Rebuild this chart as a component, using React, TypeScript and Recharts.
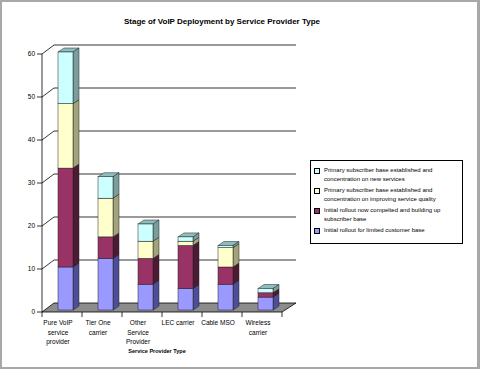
import React from 'react';
import { BarChart, Bar, XAxis, YAxis, CartesianGrid, Legend } from 'recharts';

const CATEGORIES = ['Pure VoIP service provider', 'Tier One carrier', 'Other Service Provider', 'LEC carrier', 'Cable MSO', 'Wireless carrier'];
const CATEGORY_LINES = [['Pure VoIP', 'service', 'provider'], ['Tier One', 'carrier'], ['Other', 'Service', 'Provider'], ['LEC carrier'], ['Cable MSO'], ['Wireless', 'carrier']];

const INITIAL_LIMITED = [10, 12, 6, 5, 6, 3];
const INITIAL_COMPLETED = [23, 5, 6, 10, 4, 1];
const PRIMARY_QUALITY = [15, 9, 4, 1, 4.5, 0];
const PRIMARY_NEW = [12, 5, 4, 1, 0.5, 1];

const Y_TICKS = [0, 10, 20, 30, 40, 50, 60];

const SERIES = [
  { key: 'limited', name: 'Initial rollout for limited customer base', fill: '#9999ff', side: '#4d4d99', cap: '#7a7acc' },
  { key: 'completed', name: 'Initial rollout now compelted and building up subscriber base', fill: '#993366', side: '#4d1a33', cap: '#7a2952' },
  { key: 'quality', name: 'Primary subscriber base established and concentration on improving service quality', fill: '#ffffcc', side: '#a3a37a', cap: '#cccca3' },
  { key: 'newsvc', name: 'Primary subscriber base established and concentration on new services', fill: '#ccffff', side: '#7a9e9e', cap: '#8fbdbd' },
];

const data = CATEGORIES.map((name, i) => ({
  name,
  limited: INITIAL_LIMITED[i],
  completed: INITIAL_COMPLETED[i],
  quality: PRIMARY_QUALITY[i],
  newsvc: PRIMARY_NEW[i],
}));

// layout
const PLOT_BOTTOM = 312;
const WALL_DX = 12;
const WALL_DY = 9;
const BAR_DX = 6;
const BAR_DY = 4;

const Bar3D = (props: any) => {
  const { x, y, width, height, fill, side, cap } = props;
  if (!height || height <= 0.1) return null;
  const fx = x + 3;
  const fy = y - 2;
  const w = width;
  const h = height;
  return (
    <g stroke="#222" strokeWidth={0.5}>
      <polygon points={`${fx},${fy} ${fx + w},${fy} ${fx + w + BAR_DX},${fy - BAR_DY} ${fx + BAR_DX},${fy - BAR_DY}`} fill={cap} />
      <polygon points={`${fx + w},${fy} ${fx + w + BAR_DX},${fy - BAR_DY} ${fx + w + BAR_DX},${fy + h - BAR_DY} ${fx + w},${fy + h}`} fill={side} />
      <rect x={fx} y={fy} width={w} height={h} fill={fill} />
    </g>
  );
};

const GridLine = (props: any) => {
  const { x1, x2, y1 } = props;
  if (Math.abs(y1 - PLOT_BOTTOM) < 1) {
    return (
      <g>
        <polygon
          points={`${x1},${y1} ${x2},${y1} ${x2 + 14},${y1 - WALL_DY} ${x1 + WALL_DX},${y1 - WALL_DY}`}
          fill="#8c8c8c"
          stroke="#000"
          strokeWidth={0.8}
        />
      </g>
    );
  }
  return (
    <g stroke="#000" strokeWidth={0.8}>
      <line x1={x1} y1={y1} x2={x1 + WALL_DX} y2={y1 - WALL_DY} />
      <line x1={x1 + WALL_DX} y1={y1 - WALL_DY} x2={x2 + 14} y2={y1 - WALL_DY} />
    </g>
  );
};

const CategoryTick = (props: any) => {
  const { x, index } = props;
  const lines = CATEGORY_LINES[index] || [];
  return (
    <g>
      <line x1={x - 20} y1={PLOT_BOTTOM} x2={x - 20} y2={PLOT_BOTTOM + 5} stroke="#000" strokeWidth={0.8} />
      {index === CATEGORIES.length - 1 && (
        <line x1={x + 20} y1={PLOT_BOTTOM} x2={x + 20} y2={PLOT_BOTTOM + 5} stroke="#000" strokeWidth={0.8} />
      )}
      <text x={x - 4} y={PLOT_BOTTOM + 13} textAnchor="middle" fontSize={6.5} fill="#000" fontFamily="Liberation Sans, Arial, sans-serif">
        {lines.map((l: string, i: number) => (
          <tspan key={i} x={x - 4} dy={i === 0 ? 0 : 9.5}>{l}</tspan>
        ))}
      </text>
    </g>
  );
};

const renderLegend = (props: any) => {
  const items = [...(props.payload || [])].reverse();
  return (
    <div style={{ border: '1px solid #000', boxSizing: 'border-box', width: 153, height: 84, padding: '5px 3px', background: '#fff', fontFamily: 'Liberation Sans, Arial, sans-serif' }}>
      {items.map((item: any, i: number) => (
        <div key={i} style={{ display: 'flex', alignItems: 'flex-start', marginBottom: 3 }}>
          <span style={{ width: 4, height: 4, border: '1px solid #000', background: item.color, marginTop: 2, marginRight: 4, flexShrink: 0 }} />
          <span style={{ fontSize: 6, lineHeight: '8.5px', color: '#000', width: 138 }}>{item.value}</span>
        </div>
      ))}
    </div>
  );
};

export default function App() {
  return (
    <div style={{ position: 'absolute', left: 0, top: 0, width: 480, height: 369, background: '#fff', fontFamily: 'Liberation Sans, Arial, sans-serif' }}>
      <div style={{ position: 'absolute', left: 0, top: 17, width: 444, textAlign: 'center', fontSize: 8, fontWeight: 'bold', color: '#000' }}>
        Stage of VoIP Deployment by Service Provider Type
      </div>
      <BarChart width={480} height={369} data={data} margin={{ top: 54, right: 198, bottom: 7, left: 12 }} barSize={15}>
        <CartesianGrid horizontal={GridLine} vertical={false} />
        <XAxis dataKey="name" height={50} axisLine={false} tickLine={false} tick={<CategoryTick />} interval={0} />
        <YAxis
          width={30}
          domain={[0, 60]}
          ticks={Y_TICKS}
          interval={0}
          tick={{ fontSize: 6.5, fill: '#000' }}
          axisLine={{ stroke: '#000', strokeWidth: 0.8 }}
          tickLine={{ stroke: '#000', strokeWidth: 0.8 }}
          tickSize={5}
          tickMargin={2}
        />
        <Legend
          layout="vertical"
          align="center"
          verticalAlign="middle"
          content={renderLegend}
          wrapperStyle={{ left: 310, top: 160, width: 153, height: 84 }}
        />
        {SERIES.map((s) => (
          <Bar
            key={s.key}
            dataKey={s.key}
            name={s.name}
            stackId="a"
            fill={s.fill}
            isAnimationActive={false}
            shape={(p: any) => <Bar3D {...p} fill={s.fill} side={s.side} cap={s.cap} />}
          />
        ))}
      </BarChart>
      <div style={{ position: 'absolute', left: 107, top: 348, width: 100, textAlign: 'center', fontSize: 5.5, fontWeight: 'bold', color: '#000' }}>
        Service Provider Type
      </div>
      <div style={{ position: 'absolute', left: 0, top: 0, width: 480, height: 369, boxSizing: 'border-box', border: '2px solid #a8a8a8', borderRightWidth: 3, pointerEvents: 'none' }} />
    </div>
  );
}
